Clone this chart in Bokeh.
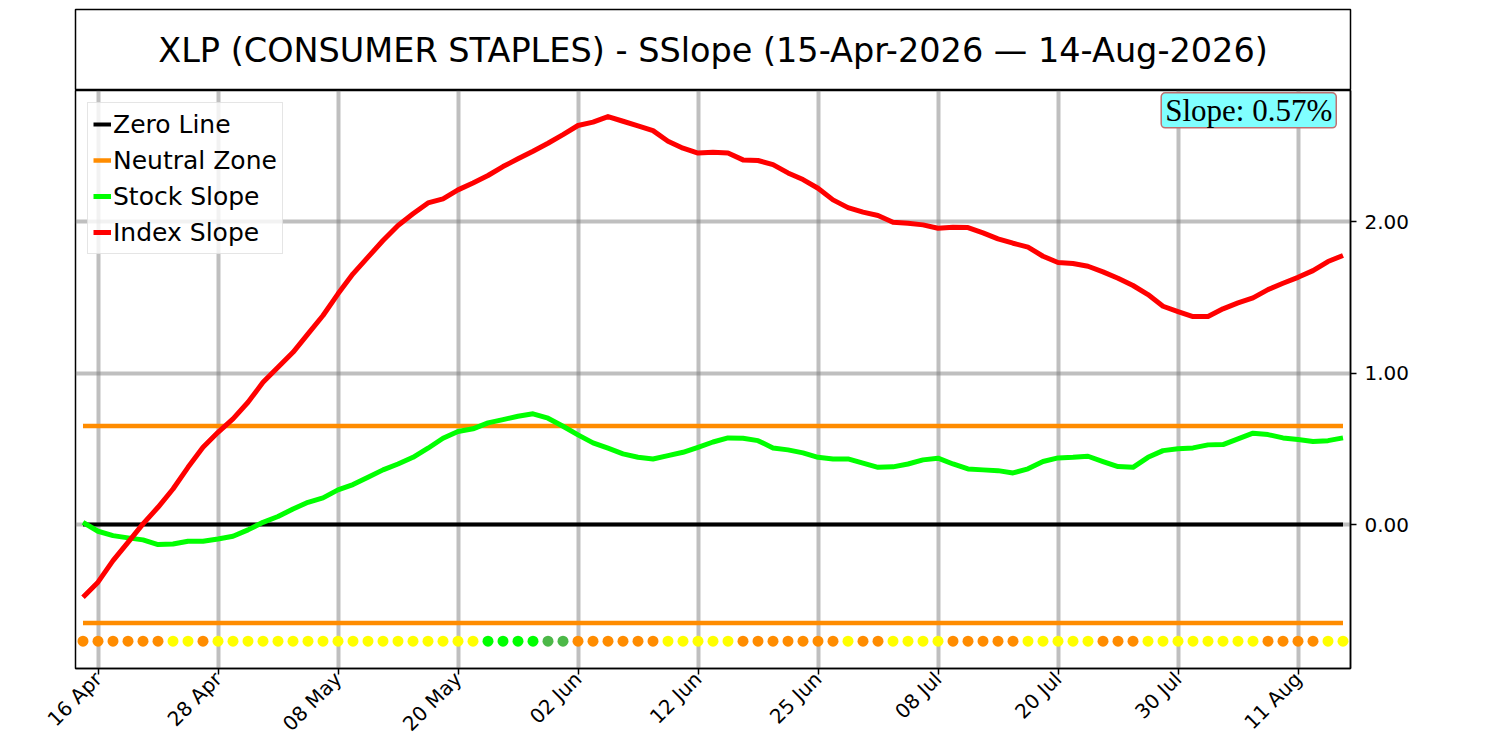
from bokeh.plotting import figure
from bokeh.layouts import column
from bokeh.models import (FixedTicker, NumeralTickFormatter, Range1d, Legend,
                          LegendItem, Label)
from bokeh.embed import file_html
from bokeh.resources import INLINE
from bokeh.core.properties import value
import math

# ---------------- data ----------------
title_text = "XLP (CONSUMER STAPLES) - SSlope (15-Apr-2026 \u2014 14-Aug-2026)"

index_slope = [
    -0.48, -0.38, -0.238, -0.117, 0.005, 0.114, 0.235, 0.378, 0.51, 0.609,
    0.698, 0.807, 0.939, 1.038, 1.137, 1.259, 1.38, 1.523, 1.655, 1.765,
    1.875, 1.974, 2.051, 2.123, 2.15, 2.209, 2.255, 2.304, 2.363, 2.414,
    2.464, 2.517, 2.574, 2.634, 2.656, 2.693, 2.662, 2.632, 2.60, 2.53,
    2.484, 2.452, 2.457, 2.453, 2.407, 2.403, 2.376, 2.321, 2.277, 2.22,
    2.143, 2.092, 2.062, 2.04, 1.996, 1.989, 1.978, 1.956, 1.963, 1.96,
    1.925, 1.886, 1.857, 1.831, 1.771, 1.73, 1.723, 1.705, 1.668, 1.626,
    1.578, 1.518, 1.441, 1.406, 1.373, 1.373, 1.424, 1.463, 1.496, 1.551,
    1.593, 1.632, 1.676, 1.736, 1.776,
]

stock_slope = [
    0.015, -0.044, -0.073, -0.088, -0.101, -0.132, -0.128, -0.11, -0.11, -0.095,
    -0.077, -0.035, 0.015, 0.053, 0.103, 0.147, 0.176, 0.229, 0.264, 0.312,
    0.361, 0.40, 0.444, 0.504, 0.57, 0.614, 0.632, 0.671, 0.693, 0.715,
    0.731, 0.702, 0.649, 0.592, 0.539, 0.504, 0.467, 0.444, 0.433, 0.455,
    0.477, 0.51, 0.545, 0.572, 0.57, 0.554, 0.506, 0.493, 0.473, 0.444,
    0.433, 0.433, 0.405, 0.378, 0.381, 0.40, 0.427, 0.438, 0.40, 0.367,
    0.361, 0.356, 0.341, 0.368, 0.416, 0.44, 0.444, 0.451, 0.416, 0.383,
    0.378, 0.444, 0.488, 0.50, 0.506, 0.526, 0.528, 0.566, 0.603, 0.594,
    0.572, 0.561, 0.548, 0.554, 0.572,
]

# signal state per trading day: B = bearish (orange), N = neutral (yellow),
# S = strong bullish (lime), W = weak bullish (green)
signal_runs = [
    ("B", 6), ("N", 2), ("B", 1), ("N", 18), ("S", 4), ("W", 2), ("B", 6),
    ("N", 5), ("B", 7), ("N", 1), ("B", 2), ("N", 4), ("B", 5), ("N", 5),
    ("B", 3), ("N", 8), ("B", 4), ("N", 2),
]
signal_colors = {"B": "#ff8c00", "N": "#ffff00", "S": "#00ff00", "W": "#4cb848"}

neutral_zone = 0.65
signal_row = -0.77
slope_text = "Slope: 0.57%"

tick_positions = [1, 9, 17, 25, 33, 41, 49, 57, 65, 73, 81]
tick_labels = ["16 Apr", "28 Apr", "08 May", "20 May", "02 Jun", "12 Jun",
               "25 Jun", "08 Jul", "20 Jul", "30 Jul", "11 Aug"]
y_ticks = [0, 1, 2]

# ---------------- derived ----------------
n = len(index_slope)
xs = list(range(n))
signals = []
for s, k in signal_runs:
    signals += [s] * k
dot_colors = [signal_colors[s] for s in signals]

FONT = "DejaVu Sans"
W = 1490
BL, BR = 75, W - 1350

# ---------------- title box ----------------
tp = figure(width=W, height=90, output_backend="svg", toolbar_location=None,
            x_range=Range1d(0, 1), y_range=Range1d(0, 1),
            x_axis_type=None, y_axis_type=None,
            min_border_left=BL, min_border_right=BR,
            min_border_top=9, min_border_bottom=0)
tp.grid.visible = False
tp.outline_line_color = "black"
tp.outline_line_width = 1.5
tp.text(x=[0.5], y=[0.5], text=[title_text], text_align="center",
        text_baseline="middle", text_font=value(FONT),
        text_font_size="33.5px", text_color="black")

# ---------------- main plot ----------------
p = figure(width=W, height=659, output_backend="svg", toolbar_location=None,
           x_range=Range1d(-0.5, n - 0.5), y_range=Range1d(-0.95, 2.865),
           y_axis_location="right",
           min_border_left=BL, min_border_right=BR,
           min_border_top=0, min_border_bottom=81)
p.outline_line_color = "black"
p.outline_line_width = 1.5

p.xaxis.ticker = FixedTicker(ticks=tick_positions)
p.xaxis.major_label_overrides = {t: l for t, l in zip(tick_positions, tick_labels)}
p.xaxis.major_label_orientation = math.pi / 4
p.yaxis.ticker = FixedTicker(ticks=y_ticks)
p.yaxis.formatter = NumeralTickFormatter(format="0.00")
for ax in (p.xaxis, p.yaxis):
    ax.major_label_text_font = FONT
    ax.major_label_text_font_size = "20px"
    ax.major_label_text_color = "black"
    ax.axis_line_color = "black"
    ax.axis_line_width = 1.5
    ax.major_tick_line_color = "black"
    ax.major_tick_line_width = 1.5
    ax.major_tick_out = 6
    ax.major_tick_in = 0
    ax.minor_tick_line_color = None
p.xaxis.major_label_standoff = 1
p.yaxis.major_label_standoff = 8

p.xgrid.ticker = FixedTicker(ticks=tick_positions)
p.ygrid.ticker = FixedTicker(ticks=y_ticks)
for g in (p.xgrid, p.ygrid):
    g.grid_line_color = "gray"
    g.grid_line_alpha = 0.5
    g.grid_line_width = 4

zero_r = p.line([0, n - 1], [0, 0], line_color="black", line_width=4)
nz_hi = p.line([0, n - 1], [neutral_zone, neutral_zone], line_color="#ff8c00",
               line_width=4.5)
nz_lo = p.line([0, n - 1], [-neutral_zone, -neutral_zone], line_color="#ff8c00",
               line_width=4.5)
stock_r = p.line(xs, stock_slope, line_color="#00ff00", line_width=5,
                 line_join="round")
index_r = p.line(xs, index_slope, line_color="#ff0000", line_width=5,
                 line_join="round")
p.scatter(xs, [signal_row] * n, size=11, fill_color=dot_colors,
          line_color=None, marker="circle")

legend = Legend(items=[
    LegendItem(label="Zero Line", renderers=[zero_r]),
    LegendItem(label="Neutral Zone", renderers=[nz_hi]),
    LegendItem(label="Stock Slope", renderers=[stock_r]),
    LegendItem(label="Index Slope", renderers=[index_r]),
], location="top_left")
legend.label_text_font = FONT
legend.label_text_font_size = "25px"
legend.label_text_color = "black"
legend.glyph_width = 18
legend.glyph_height = 32
legend.label_height = 32
legend.label_standoff = 2
legend.spacing = 4
legend.padding = 5
legend.margin = 12
legend.border_line_color = "#cccccc"
legend.border_line_width = 1.5
legend.background_fill_alpha = 0.8
p.add_layout(legend)

lbl = Label(x=83.55, y=2.85, text=slope_text, text_align="right",
            text_baseline="top", text_font=FONT, text_font_size="31px",
            text_color="black",
            background_fill_color="#80ffff", background_fill_alpha=1.0,
            border_line_color="#c07070", border_line_width=1.5,
            padding=dict(left=4, right=4, top=0, bottom=0), border_radius=4)
lbl.text_font = "Liberation Serif"
p.add_layout(lbl)

layout = column(tp, p, spacing=0)
open("out.html", "w").write(file_html(layout, INLINE))
